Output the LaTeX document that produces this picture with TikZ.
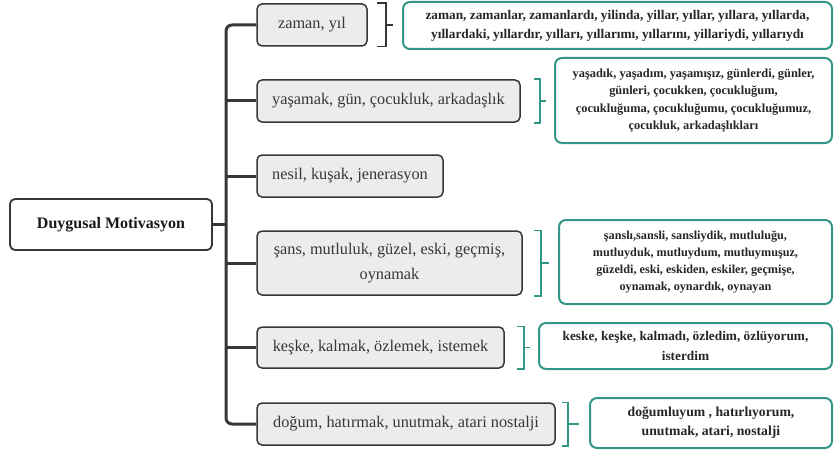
\documentclass[tikz,border=0pt]{standalone}
\usepackage{fontspec}
\setmainfont{Liberation Serif}
\usetikzlibrary{calc}
\definecolor{tealc}{RGB}{52,150,134}
\definecolor{dk}{RGB}{55,55,55}
\definecolor{gfill}{RGB}{236,236,236}
\tikzset{
 gbox/.style={draw=dk, line width=1.5pt, fill=gfill, rounded corners=5pt, align=center, font=\fontsize{16.3}{25}\selectfont, text=dk, inner sep=0pt},
 dbox/.style={draw=tealc, line width=2pt, fill=white, rounded corners=7pt, align=center, text=black!85, inner sep=0pt},
 rbox/.style={draw=dk, line width=1.8pt, fill=white, rounded corners=5pt, font=\fontsize{16}{18}\selectfont\bfseries, text=black!90, inner sep=0pt},
 trunk/.style={draw=dk, line width=3pt, rounded corners=6pt},
 brk/.style={line width=1.5pt},
}
\begin{document}
\begin{tikzpicture}[x=1pt,y=-1pt]
\useasboundingbox (0,0) rectangle (836,452);
% root
\node[rbox, minimum width=202pt, minimum height=51pt] (root) at (111,224.5) {Duygusal Motivasyon};
% gray boxes
\node[gbox, minimum width=110pt, minimum height=42pt] (g1) at (312,25) {zaman, yıl};
\node[gbox, minimum width=263pt, minimum height=42pt] (g2) at (388.5,101) {yaşamak, gün, çocukluk, arkadaşlık};
\node[gbox, minimum width=186pt, minimum height=42pt] (g3) at (350,176) {nesil, kuşak, jenerasyon};
\node[gbox, minimum width=265pt, minimum height=64pt] (g4) at (389.5,263) {şans, mutluluk, güzel, eski, geçmiş,\\ oynamak};
\node[gbox, minimum width=247pt, minimum height=41pt] (g5) at (380.5,347.5) {keşke, kalmak, özlemek, istemek};
\node[gbox, minimum width=298pt, minimum height=42pt] (g6) at (406,424) {doğum, hatırmak, unutmak, atari nostalji};
% detail boxes
\node[dbox, font=\fontsize{13.3}{19}\selectfont\bfseries, minimum width=429pt, minimum height=47pt] (d1) at (617.5,25.5) {zaman, zamanlar, zamanlardı, yilinda, yillar, yıllar, yıllara, yıllarda,\\ yıllardaki, yıllardır, yılları, yıllarımı, yıllarını, yillariydi, yıllarıydı};
\node[dbox, font=\fontsize{12.4}{17.5}\selectfont\bfseries, minimum width=277pt, minimum height=85pt] (d2) at (693.5,100.5) {yaşadık, yaşadım, yaşamışız, günlerdi, günler,\\ günleri, çocukken, çocukluğum,\\ çocukluğuma, çocukluğumu, çocukluğumuz,\\ çocukluk, arkadaşlıkları};
\node[dbox, font=\fontsize{12.2}{16.8}\selectfont\bfseries, minimum width=273pt, minimum height=84pt] (d3) at (695.5,262) {şanslı,sansli, sansliydik, mutluluğu,\\ mutluyduk, mutluydum, mutluymuşuz,\\ güzeldi, eski, eskiden, eskiler, geçmişe,\\ oynamak, oynardık, oynayan};
\node[dbox, font=\fontsize{13.3}{20}\selectfont\bfseries, minimum width=293pt, minimum height=46pt] (d4) at (685.5,346) {keske, keşke, kalmadı, özledim, özlüyorum,\\ isterdim};
\node[dbox, font=\fontsize{13.7}{19}\selectfont\bfseries, minimum width=242pt, minimum height=50pt] (d5) at (711,423) {doğumluyum , hatırlıyorum,\\ unutmak, atari, nostalji};
% trunk
\coordinate (tr) at (226,0);
\draw[trunk] (g1.west) -- (g1.west -| tr) -- (g6.west -| tr) -- (g6.west);
\foreach \g in {g2,g3,g4,g5} \draw[trunk] (\g.west) -- (\g.west -| tr);
\draw[trunk] (root.east) -- (root.east -| tr);
% brackets
\draw[brk,dk] ([xshift=9pt]g1.north east) -- ++(9,0) |- ([xshift=9pt]g1.south east);
\draw[brk,dk,shorten >=9pt] ([xshift=18pt]g1.east) -- (d1.west |- g1.east);
\draw[brk,tealc] ([xshift=13pt]g2.north east) -- ++(6,0) |- ([xshift=13pt]g2.south east);
\draw[brk,tealc,shorten >=8pt] ([xshift=19pt]g2.east) -- (d2.west |- g2.east);
\draw[brk,tealc] ([xshift=11pt]g4.north east) -- ++(7,0) |- ([xshift=11pt]g4.south east);
\draw[brk,tealc,shorten >=9pt] ([xshift=18pt]g4.east) -- (d3.west |- g4.east);
\draw[brk,tealc] ([xshift=12pt]g5.north east) -- ++(7,0) |- ([xshift=12pt]g5.south east);
\draw[brk,tealc,shorten >=8pt] ([xshift=19pt]g5.east) -- (d4.west |- g5.east);
\draw[brk,tealc] ([xshift=6pt]g6.north east) -- ++(6,0) |- ([xshift=6pt]g6.south east);
\draw[brk,tealc,shorten >=10pt] ([xshift=12pt]g6.east) -- (d5.west |- g6.east);
\end{tikzpicture}
\end{document}
